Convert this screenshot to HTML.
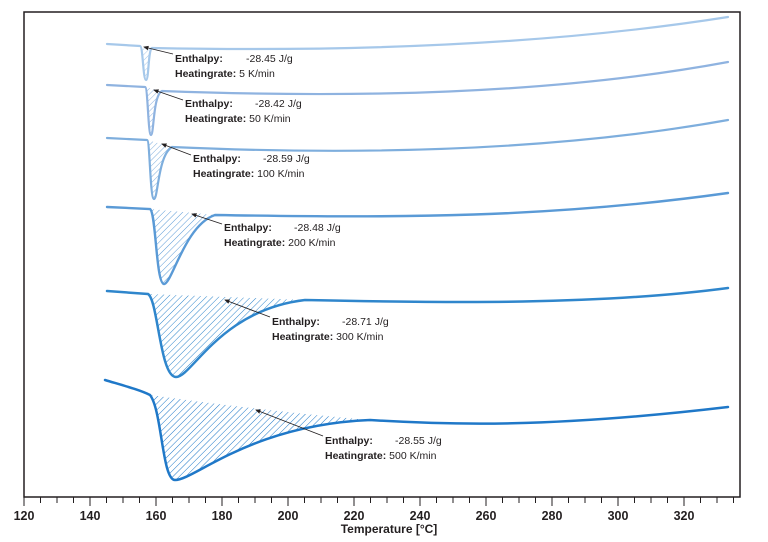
<!DOCTYPE html>
<html><head><meta charset="utf-8"><style>
html,body{margin:0;padding:0;background:#fff;width:768px;height:542px;overflow:hidden}
svg{display:block}
text{font-family:"Liberation Sans",sans-serif;font-size:10.5px;fill:#231f20}
.b{font-weight:bold}
.ax{font-size:12.5px;font-weight:bold;text-anchor:middle}
</style></head><body>
<svg width="768" height="542" viewBox="0 0 768 542">
<defs>
<pattern id="h1" width="4" height="4" patternUnits="userSpaceOnUse" patternTransform="rotate(45)"><line x1="0" y1="0" x2="0" y2="4" stroke="#a6c8ea" stroke-width="1"/></pattern>
<pattern id="h2" width="4" height="4" patternUnits="userSpaceOnUse" patternTransform="rotate(45)"><line x1="0" y1="0" x2="0" y2="4" stroke="#8fb3e0" stroke-width="1"/></pattern>
<pattern id="h3" width="4" height="4" patternUnits="userSpaceOnUse" patternTransform="rotate(45)"><line x1="0" y1="0" x2="0" y2="4" stroke="#7eaedd" stroke-width="1"/></pattern>
<pattern id="h4" width="4.5" height="4.5" patternUnits="userSpaceOnUse" patternTransform="rotate(45)"><line x1="0" y1="0" x2="0" y2="4.5" stroke="#5a9ad6" stroke-width="1"/></pattern>
<pattern id="h5" width="4.5" height="4.5" patternUnits="userSpaceOnUse" patternTransform="rotate(45)"><line x1="0" y1="0" x2="0" y2="4.5" stroke="#2f86cc" stroke-width="1"/></pattern>
<pattern id="h6" width="4.5" height="4.5" patternUnits="userSpaceOnUse" patternTransform="rotate(45)"><line x1="0" y1="0" x2="0" y2="4.5" stroke="#1f78c8" stroke-width="1"/></pattern>
<marker id="ar" markerWidth="6" markerHeight="6" refX="5" refY="3" orient="auto"><path d="M0,0.5 L6,3 L0,5.5 Z" fill="#231f20"/></marker>
</defs>
<rect x="24" y="12" width="716" height="485" fill="none" stroke="#231f20" stroke-width="1.5"/>

<path d="M140,46 C143,46 143,80 146,80 C149,80 148,50 152,48 Z" fill="url(#h1)"/>
<path d="M145,87 C148,87 148,135 151,135 C154,135 153,95 162,91 Z" fill="url(#h2)"/>
<path d="M147,140 C150,140 150,199 154,199 C158,199 158,155 172,147 Z" fill="url(#h3)"/>
<path d="M150,209 C156,212 156,284 164,284 C172,284 185,225 215,215 Z" fill="url(#h4)"/>
<path d="M148,294 C158,300 160,377 176,377 C192,377 220,310 305,300 Z" fill="url(#h5)"/>
<path d="M150,395 C162,410 162,480 175,480 C195,480 250,425 370,420 C300,414 220,405 150,395 Z" fill="url(#h6)"/>

<g fill="none" stroke-linecap="round">
<path d="M107,44 L140,46 C143,46 143,80 146,80 C149,80 148,50 152,48 C350,52 550,45 728,17" stroke="#a6c8ea" stroke-width="2.2"/>
<path d="M107,85 L145,87 C148,87 148,135 151,135 C154,135 153,95 162,91 C350,98 550,95 728,62" stroke="#8fb3e0" stroke-width="2.2"/>
<path d="M107,138 L147,140 C150,140 150,199 154,199 C158,199 158,155 172,147 C350,155 550,152 728,120" stroke="#7eaedd" stroke-width="2.2"/>
<path d="M107,207 L150,209 C156,212 156,284 164,284 C172,284 185,225 215,215 C400,218 550,218 728,193" stroke="#5a9ad6" stroke-width="2.4"/>
<path d="M107,291 L148,294 C158,300 160,377 176,377 C192,377 220,310 305,300 C450,303 600,305 728,288" stroke="#2f86cc" stroke-width="2.5"/>
<path d="M105,380 C125,386 140,390 150,395 C162,410 162,480 175,480 C195,480 250,425 370,420 C450,425 550,428 728,407" stroke="#1f78c8" stroke-width="2.5"/>
</g>

<g stroke="#231f20" stroke-width="0.9" marker-end="url(#ar)">
<line x1="173" y1="54" x2="144" y2="47"/>
<line x1="183" y1="100" x2="154" y2="90"/>
<line x1="191" y1="155" x2="162" y2="144"/>
<line x1="222" y1="224" x2="192" y2="214"/>
<line x1="270" y1="317" x2="225" y2="300"/>
<line x1="323" y1="436" x2="256" y2="410"/>
</g>

<text x="175" y="62" class="b">Enthalpy:</text><text x="246" y="62">-28.45 J/g</text>
<text x="175" y="77" class="b">Heatingrate:<tspan font-weight="normal"> 5 K/min</tspan></text>
<text x="185" y="107" class="b">Enthalpy:</text><text x="255" y="107">-28.42 J/g</text>
<text x="185" y="122" class="b">Heatingrate:<tspan font-weight="normal"> 50 K/min</tspan></text>
<text x="193" y="162" class="b">Enthalpy:</text><text x="263" y="162">-28.59 J/g</text>
<text x="193" y="177" class="b">Heatingrate:<tspan font-weight="normal"> 100 K/min</tspan></text>
<text x="224" y="231" class="b">Enthalpy:</text><text x="294" y="231">-28.48 J/g</text>
<text x="224" y="246" class="b">Heatingrate:<tspan font-weight="normal"> 200 K/min</tspan></text>
<text x="272" y="325" class="b">Enthalpy:</text><text x="342" y="325">-28.71 J/g</text>
<text x="272" y="340" class="b">Heatingrate:<tspan font-weight="normal"> 300 K/min</tspan></text>
<text x="325" y="444" class="b">Enthalpy:</text><text x="395" y="444">-28.55 J/g</text>
<text x="325" y="459" class="b">Heatingrate:<tspan font-weight="normal"> 500 K/min</tspan></text>

<g stroke="#231f20" stroke-width="1">
<line x1="24" y1="497" x2="24" y2="506"/><line x1="40.5" y1="497" x2="40.5" y2="503"/><line x1="57" y1="497" x2="57" y2="503"/><line x1="73.5" y1="497" x2="73.5" y2="503"/>
<line x1="90" y1="497" x2="90" y2="506"/><line x1="106.5" y1="497" x2="106.5" y2="503"/><line x1="123" y1="497" x2="123" y2="503"/><line x1="139.5" y1="497" x2="139.5" y2="503"/>
<line x1="156" y1="497" x2="156" y2="506"/><line x1="172.5" y1="497" x2="172.5" y2="503"/><line x1="189" y1="497" x2="189" y2="503"/><line x1="205.5" y1="497" x2="205.5" y2="503"/>
<line x1="222" y1="497" x2="222" y2="506"/><line x1="238.5" y1="497" x2="238.5" y2="503"/><line x1="255" y1="497" x2="255" y2="503"/><line x1="271.5" y1="497" x2="271.5" y2="503"/>
<line x1="288" y1="497" x2="288" y2="506"/><line x1="304.5" y1="497" x2="304.5" y2="503"/><line x1="321" y1="497" x2="321" y2="503"/><line x1="337.5" y1="497" x2="337.5" y2="503"/>
<line x1="354" y1="497" x2="354" y2="506"/><line x1="370.5" y1="497" x2="370.5" y2="503"/><line x1="387" y1="497" x2="387" y2="503"/><line x1="403.5" y1="497" x2="403.5" y2="503"/>
<line x1="420" y1="497" x2="420" y2="506"/><line x1="436.5" y1="497" x2="436.5" y2="503"/><line x1="453" y1="497" x2="453" y2="503"/><line x1="469.5" y1="497" x2="469.5" y2="503"/>
<line x1="486" y1="497" x2="486" y2="506"/><line x1="502.5" y1="497" x2="502.5" y2="503"/><line x1="519" y1="497" x2="519" y2="503"/><line x1="535.5" y1="497" x2="535.5" y2="503"/>
<line x1="552" y1="497" x2="552" y2="506"/><line x1="568.5" y1="497" x2="568.5" y2="503"/><line x1="585" y1="497" x2="585" y2="503"/><line x1="601.5" y1="497" x2="601.5" y2="503"/>
<line x1="618" y1="497" x2="618" y2="506"/><line x1="634.5" y1="497" x2="634.5" y2="503"/><line x1="651" y1="497" x2="651" y2="503"/><line x1="667.5" y1="497" x2="667.5" y2="503"/>
<line x1="684" y1="497" x2="684" y2="506"/><line x1="700.5" y1="497" x2="700.5" y2="503"/><line x1="717" y1="497" x2="717" y2="503"/><line x1="733.5" y1="497" x2="733.5" y2="503"/>
</g>
<text x="24" y="520" class="ax">120</text><text x="90" y="520" class="ax">140</text><text x="156" y="520" class="ax">160</text><text x="222" y="520" class="ax">180</text><text x="288" y="520" class="ax">200</text><text x="354" y="520" class="ax">220</text><text x="420" y="520" class="ax">240</text><text x="486" y="520" class="ax">260</text><text x="552" y="520" class="ax">280</text><text x="618" y="520" class="ax">300</text><text x="684" y="520" class="ax">320</text>
<text x="389" y="533" class="ax" style="font-size:12px">Temperature [°C]</text>
</svg>
</body></html>
